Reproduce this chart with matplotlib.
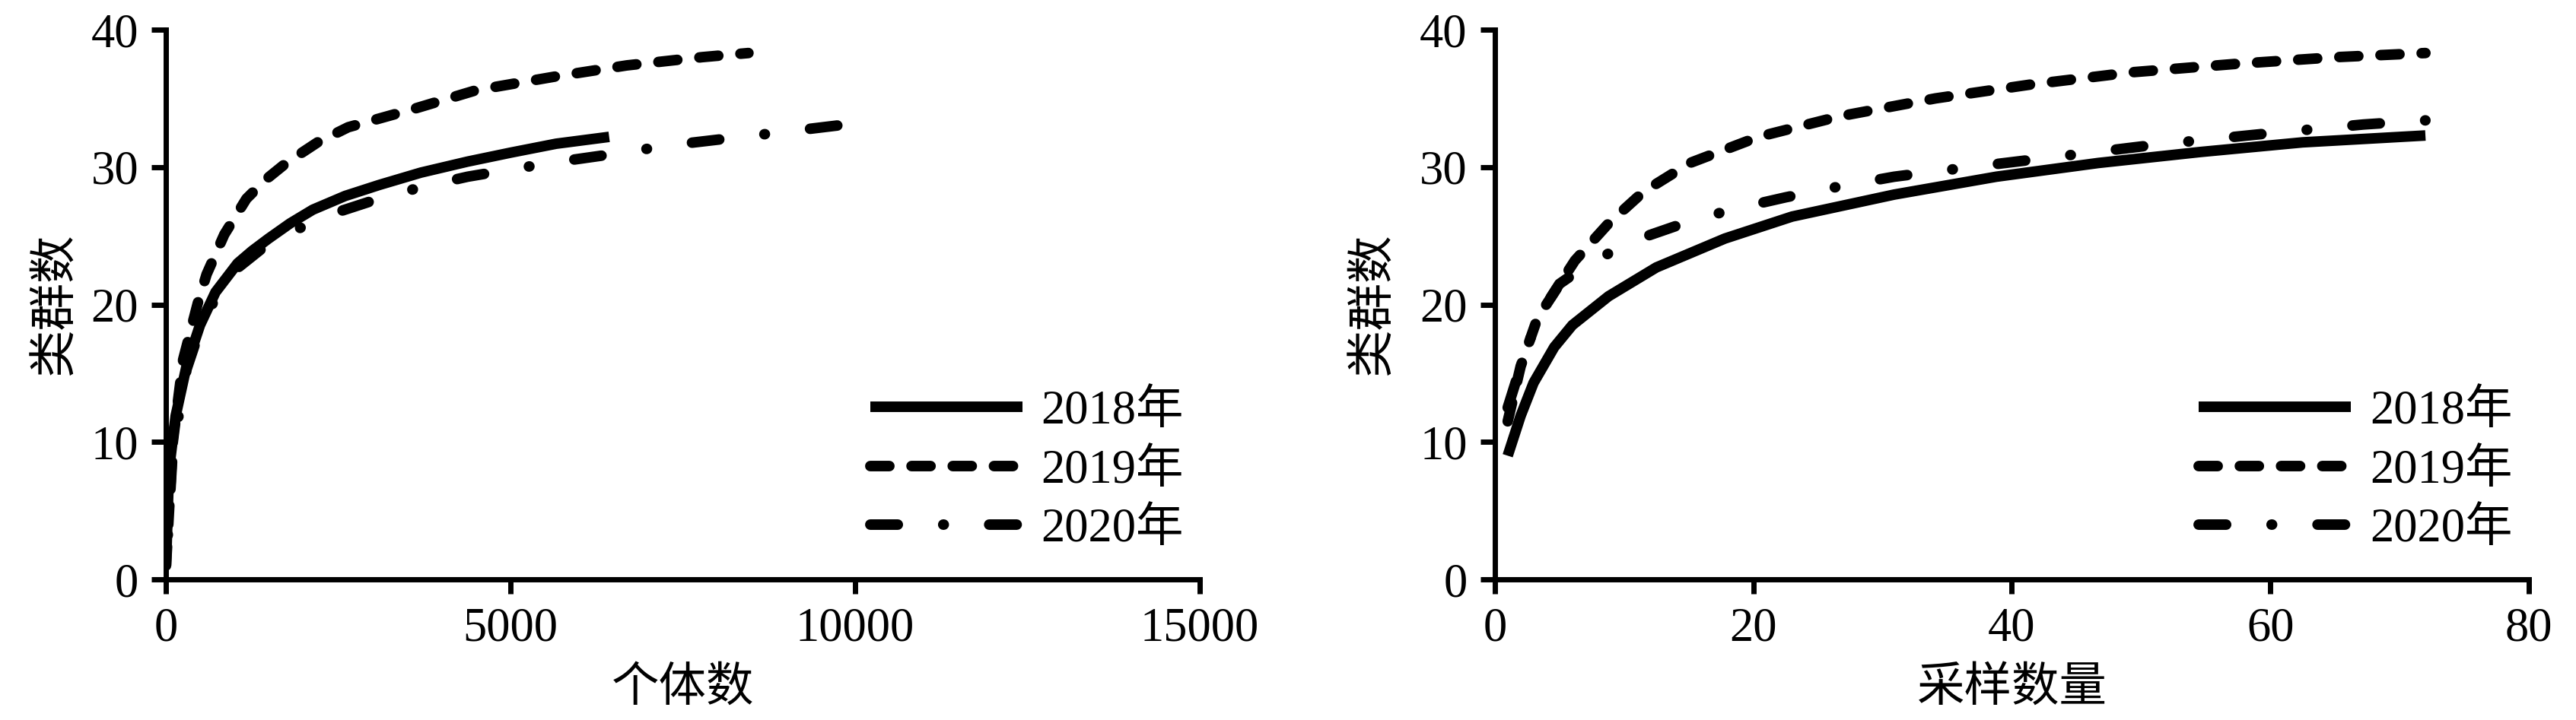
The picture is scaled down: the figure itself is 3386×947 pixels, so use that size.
import matplotlib
matplotlib.use("Agg")
import matplotlib.pyplot as plt

plt.rcParams['font.family'] = ['Liberation Serif', 'Noto Sans CJK SC']

years = ['2018年', '2019年', '2020年']

# 个体数 panel
ind_x_2018 = [1, 45, 141, 302, 494, 719, 1040, 1250, 1489, 1800, 2131, 2600, 3094, 3700, 4377, 5000, 5661, 6431]
ind_y_2018 = [1, 8, 11.9, 15.6, 18.5, 20.9, 23, 23.9, 24.8, 25.9, 26.9, 27.9, 28.7, 29.6, 30.4, 31.05, 31.7, 32.2]
ind_x_2019 = [1, 100, 250, 462, 590, 847, 1168, 1450, 1746, 2200, 2644, 3607, 4505, 5661, 6687, 7779, 8452]
ind_y_2019 = [1, 10, 16, 20.1, 22.2, 25.1, 27.7, 29.1, 30.3, 31.8, 32.9, 34.25, 35.6, 36.6, 37.4, 38.0, 38.3]
ind_x_2020 = [1, 100, 300, 500, 750, 1000, 1500, 2291, 2965, 3671, 4377, 5083, 5853, 6559, 7329, 8869, 9865]
ind_y_2020 = [1, 9.5, 15.3, 18.3, 20.8, 22.5, 24.5, 26.4, 27.5, 28.5, 29.3, 29.9, 30.5, 31.0, 31.6, 32.5, 33.1]

# 采样数量 panel
smp_x_2018 = [1, 2, 3, 4.6, 6, 8.8, 12.5, 17.8, 23, 30.9, 38.8, 46.7, 54.6, 62.5, 72]
smp_y_2018 = [9, 11.9, 14.3, 16.9, 18.5, 20.6, 22.7, 24.8, 26.4, 28.0, 29.3, 30.3, 31.1, 31.8, 32.3]
smp_x_2019 = [1, 2, 3.3, 6.2, 8.8, 11.5, 15.1, 20.4, 26.7, 34.1, 41.4, 49.3, 57.2, 65.1, 72]
smp_y_2019 = [11.5, 15.5, 19, 23.2, 25.9, 28.2, 30.3, 32.2, 33.7, 35, 36, 36.9, 37.5, 38.0, 38.3]
smp_x_2020 = [1, 2, 3.3, 5, 7.3, 10.9, 14.9, 18.3, 22.5, 26.7, 30.9, 35.1, 43, 50.9, 59.3, 67.2, 72]
smp_y_2020 = [12.5, 15.5, 19, 21.5, 23, 24.7, 26, 26.9, 27.8, 28.6, 29.3, 29.8, 30.7, 31.6, 32.4, 33.1, 33.4]

styles = ['-', (0, (1.8, 2.1)), (0, (2.6, 4.3, 0.05, 4.3))]
# dash offsets so the dash-dot lines end on a dash, like the original
offsets = [(0, 0, 4.0), (0, 0, 0)]
fs = 45
lw = 10

fig = plt.figure(figsize=(33.87, 9.47), dpi=100)
ax1 = fig.add_axes([0.0644, 0.1953, 0.4012, 0.7635])
ax2 = fig.add_axes([0.5801, 0.1953, 0.4013, 0.7635])

panels = [
    (ax1, [(ind_x_2018, ind_y_2018), (ind_x_2019, ind_y_2019), (ind_x_2020, ind_y_2020)],
     15000, [0, 5000, 10000, 15000], '个体数', -0.084, offsets[0]),
    (ax2, [(smp_x_2018, smp_y_2018), (smp_x_2019, smp_y_2019), (smp_x_2020, smp_y_2020)],
     80, [0, 20, 40, 60, 80], '采样数量', -0.095, offsets[1]),
]

for ax, series, xmax, xticks, xlabel, ylx, offs in panels:
    for (x, y), ls, lab, off in zip(series, styles, years, offs):
        if ls != '-':
            ls = (off, ls[1])
        ax.plot(x, y, color='black', lw=lw, linestyle=ls, label=lab,
                dash_capstyle='round', solid_capstyle='butt', solid_joinstyle='round')
    ax.set_xlim(0, xmax)
    ax.set_ylim(0, 40)
    ax.set_xticks(xticks)
    ax.set_yticks([0, 10, 20, 30, 40])
    for s in ['top', 'right']:
        ax.spines[s].set_visible(False)
    for s in ['left', 'bottom']:
        ax.spines[s].set_linewidth(5)
    ax.tick_params(direction='out', length=14, width=5, labelsize=fs, pad=12)
    ax.set_xlabel(xlabel, fontsize=fs)
    ax.set_ylabel('类群数', fontsize=fs)
    ax.xaxis.set_label_coords(0.5, -0.16)
    ax.yaxis.set_label_coords(ylx, 0.5)
    leg = ax.legend(loc='upper left', bbox_to_anchor=(0.681, 0.344), frameon=False,
                    fontsize=fs, handlelength=3.2, handletextpad=0.4, labelspacing=0.31,
                    borderpad=0, borderaxespad=0)
    # legend handles use the plain patterns
    for h, ls in zip(leg.get_lines(), styles):
        h.set_linestyle(ls)

fig.savefig('out.png', dpi=100, facecolor='white')
